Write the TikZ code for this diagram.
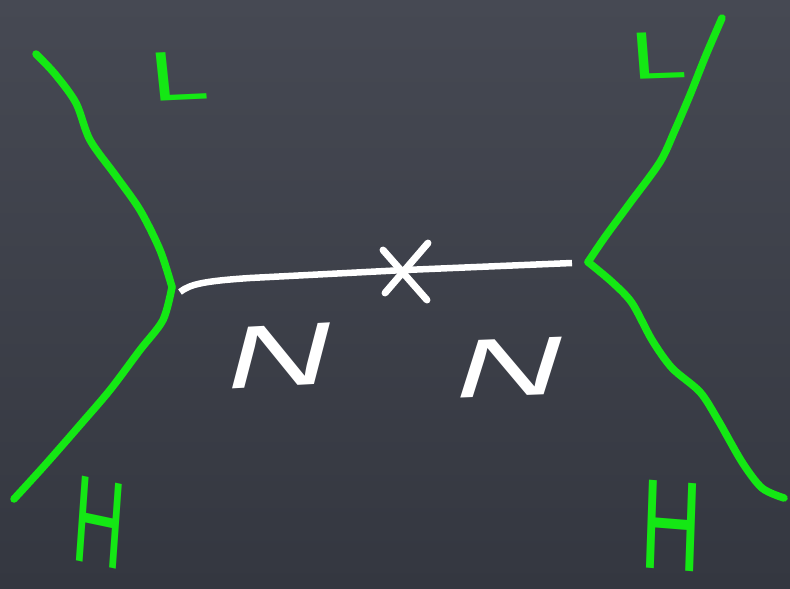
\documentclass[tikz,border=0pt]{standalone}
\usepackage{fontspec}
\newfontfamily\handfont{Liberation Sans}
\definecolor{boardtop}{RGB}{70,73,83}
\definecolor{boardbot}{RGB}{52,55,64}
\definecolor{chalkgreen}{RGB}{20,232,20}
\definecolor{chalkwhite}{RGB}{255,255,255}
\tikzset{
  greenline/.style={draw=chalkgreen,line width=7.5pt,line cap=round,line join=round},
  whiteline/.style={draw=chalkwhite,line width=6.5pt,line cap=butt,line join=round},
  greenlabel/.style={text=chalkgreen,inner sep=0pt,transform shape},
  whitelabel/.style={text=chalkwhite,inner sep=0pt,transform shape},
}
\begin{document}
\begin{tikzpicture}[x=1pt,y=-1pt]
  % board
  \shade[top color=boardtop,bottom color=boardbot] (0,0) rectangle (790,589);
  \useasboundingbox (0,0) rectangle (790,589);

  % vertices and endpoints
  \coordinate (vL) at (172,287);
  \coordinate (vR) at (588,262);
  \coordinate (lTop) at (36,54);
  \coordinate (lBot) at (14,499);
  \coordinate (rTop) at (722,18);
  \coordinate (rBot) at (784,498);
  \coordinate (xc) at (405,270);

  % green fermion lines
  \draw[greenline] plot[smooth,tension=0.5] coordinates
    {(lTop) (55,74) (76,103) (90,140) (116,176) (140,210) (160,250) (vL)};
  \draw[greenline] plot[smooth,tension=0.5] coordinates
    {(vL) (163,320) (140,350) (110,390) (80,425) (45,465) (lBot)};
  \draw[greenline] plot[smooth,tension=0.5] coordinates
    {(rTop) (706,55) (690,95) (675,130) (660,162) (630,203) (605,237) (vR)};
  \draw[greenline] plot[smooth,tension=0.5] coordinates
    {(vR) (612,282) (632,303) (652,340) (672,368) (700,392) (718,420) (742,462) (762,488) (rBot)};

  % white propagator with cross
  \draw[whiteline] (vL) ++(8,5) coordinate (wStart)
    (wStart) .. controls (190,284) and (205,281) .. (250,278) -- (xc) -- (572,263) coordinate (wEnd);
  \draw[chalkwhite,line width=7pt,line cap=round] (xc) ++(-22,-20) -- ++(44,50);
  \draw[chalkwhite,line width=7pt,line cap=round] (xc) ++(23,-27) -- ++(-43,50);

  % labels
  \node[greenlabel,font=\handfont\fontsize{70}{70}\selectfont,xscale=1.5,rotate=4] (L1) at (179,76) {L};
  \node[greenlabel,font=\handfont\fontsize{67}{67}\selectfont,xscale=1.5,rotate=3] (L2) at (659,56) {L};
  \node[greenlabel,font=\handfont\fontsize{124}{124}\selectfont,xscale=0.58,rotate=-7] (H1) at (99,523) {H};
  \node[greenlabel,font=\handfont\fontsize{128}{128}\selectfont,xscale=0.66,rotate=-3] (H2) at (671,526) {H};
  \node[whitelabel,font=\handfont\fontsize{90}{90}\selectfont,xscale=1.6,xslant=0.25,rotate=5] (N1) at (281,356) {N};
  \node[whitelabel,font=\handfont\fontsize{84}{84}\selectfont,xscale=1.75,xslant=0.25,rotate=4] (N2) at (511,368) {N};
\end{tikzpicture}
\end{document}
